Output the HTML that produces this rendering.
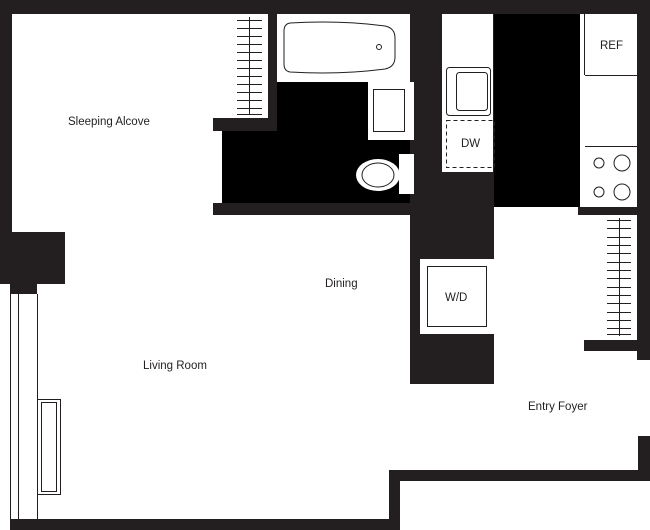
<!DOCTYPE html>
<html><head><style>html,body{margin:0;padding:0;background:#fff}svg{display:block}</style></head><body>
<svg width="650" height="530" viewBox="0 0 650 530" xmlns="http://www.w3.org/2000/svg" font-family="Liberation Sans, sans-serif" font-size="11.5" fill="#231f20">
<rect width="650" height="530" fill="#fff"/>
<g fill="#231f20">
<rect x="0" y="0" width="650" height="14"/>
<rect x="0" y="0" width="12" height="240"/>
<rect x="0" y="232" width="65" height="52"/>
<rect x="10" y="284" width="27" height="10"/>
<rect x="10" y="519" width="390" height="11"/>
<rect x="389" y="470" width="11" height="60"/>
<rect x="389" y="470" width="261" height="11"/>
<rect x="638" y="436" width="12" height="45"/>
<rect x="637" y="0" width="13" height="360"/>
<rect x="584" y="340" width="66" height="11"/>
<rect x="268" y="14" width="9" height="110"/>
<rect x="213" y="118" width="64" height="13"/>
<rect x="213" y="203" width="201" height="12"/>
<rect x="410" y="14" width="84" height="370"/>
<rect x="578" y="207" width="72" height="8"/>
</g>
<g fill="#000">
<rect x="277" y="82" width="133" height="121"/>
<rect x="222" y="131" width="60" height="72"/>
<rect x="494" y="14" width="86" height="193"/>
</g>
<g fill="#fff">
<rect x="277" y="14" width="124" height="67"/>
<rect x="442" y="14" width="51" height="158"/>
<rect x="420" y="259" width="74" height="75"/>
<rect x="580" y="14" width="57" height="184"/>
<rect x="368" y="82" width="46" height="58"/>
<rect x="399" y="154" width="15" height="40"/>
</g>
<g fill="none" stroke="#231f20" stroke-width="1">
<path d="M290 23 Q340 20 385 26 Q395 28 395 38 L395 57 Q395 67 385 69 Q340 75 290 72 Q284 71 284 64 L284 31 Q284 24 290 23Z"/>
<circle cx="379" cy="47" r="2.5"/>
<rect x="373.5" y="89.5" width="31" height="42"/>
<rect x="446.5" y="67.5" width="44" height="48" rx="3"/>
<rect x="456.5" y="72.5" width="31" height="38" rx="3"/>
<rect x="446.5" y="120.5" width="48" height="47" stroke-dasharray="4,3"/>
<line x1="584.5" y1="14" x2="584.5" y2="75"/>
<line x1="585" y1="75.5" x2="637" y2="75.5"/>
<line x1="585" y1="146.5" x2="637" y2="146.5"/>
<circle cx="599" cy="163" r="5"/><circle cx="622" cy="163" r="8"/>
<circle cx="599" cy="192" r="5"/><circle cx="622" cy="192" r="8"/>
<rect x="427.5" y="266.5" width="59" height="60"/>
<line x1="10.5" y1="294" x2="10.5" y2="519"/>
<line x1="18.5" y1="294" x2="18.5" y2="519"/>
<line x1="37.5" y1="294" x2="37.5" y2="519"/>
<rect x="37.5" y="399.5" width="23" height="95"/>
<rect x="41.5" y="402.5" width="15" height="89"/>
<line x1="249.5" y1="17" x2="249.5" y2="115"/>
<line x1="619.5" y1="218" x2="619.5" y2="336"/>
</g>
<ellipse cx="378" cy="175" rx="22" ry="16" fill="#fff"/>
<ellipse cx="378" cy="175" rx="16" ry="12" fill="none" stroke="#231f20"/>
<g stroke="#231f20" stroke-width="1">
<path d="M237 20.5h25M237 28.5h25M237 36.5h25M237 44.5h25M237 52.5h25M237 60.5h25M237 68.5h25M237 76.5h25M237 84.5h25M237 92.5h25M237 100.5h25M237 108.5h25M237 114.5h25"/>
<path d="M607 220.5h24M607 228.5h24M607 237.5h24M607 245.5h24M607 253.5h24M607 262.5h24M607 270.5h24M607 278.5h24M607 287.5h24M607 295.5h24M607 303.5h24M607 312.5h24M607 320.5h24M607 328.5h24M607 334.5h24"/>
</g>
<text x="68" y="125">Sleeping Alcove</text>
<text x="325" y="287">Dining</text>
<text x="143" y="369">Living Room</text>
<text x="528" y="410">Entry Foyer</text>
<text x="600" y="49">REF</text>
<text x="461" y="147">DW</text>
<text x="445" y="301">W/D</text>
</svg>
</body></html>
